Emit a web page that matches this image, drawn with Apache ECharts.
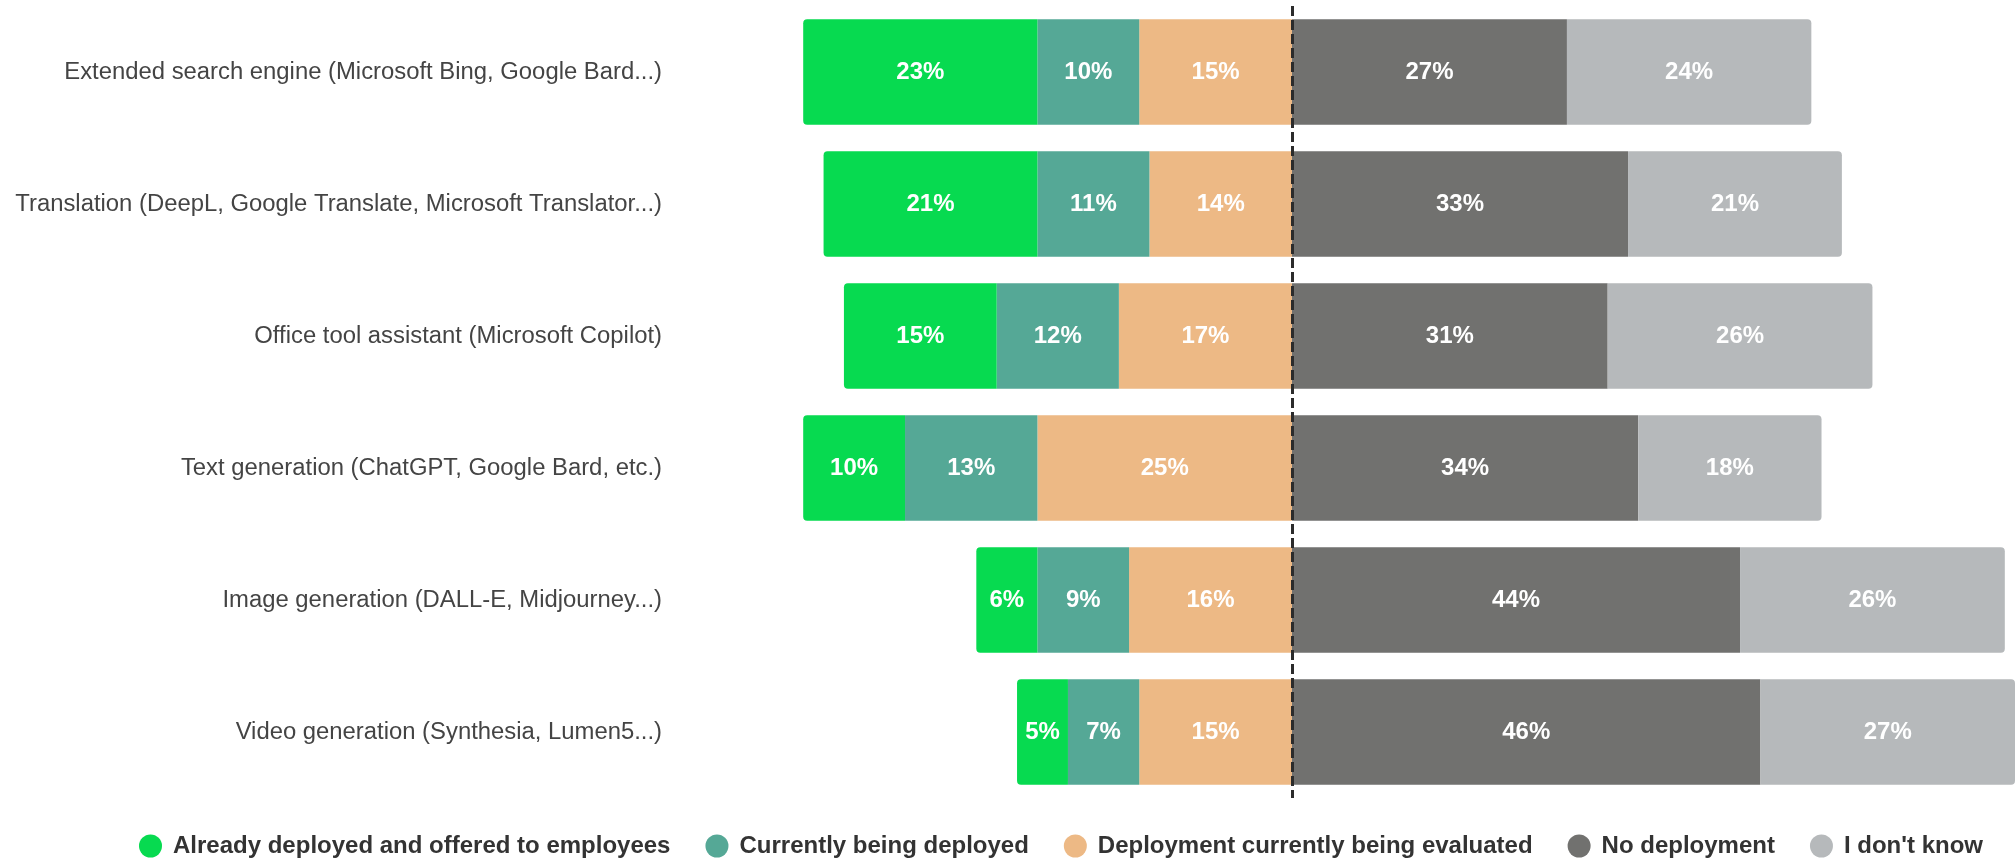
<!DOCTYPE html>
<html>
<head>
<meta charset="utf-8">
<title>Generative AI tools deployment</title>
<script src="https://cdn.jsdelivr.net/npm/echarts@6/dist/echarts.min.js"></script>
<style>
  html, body { margin: 0; padding: 0; background: #ffffff; }
  #chart { width: 2015px; height: 861px; }
</style>
</head>
<body>
<div id="chart"></div>
<script>
// Survey categories (top to bottom)
const categories = [
  'Extended search engine (Microsoft Bing, Google Bard...)',
  'Translation (DeepL, Google Translate, Microsoft Translator...)',
  'Office tool assistant (Microsoft Copilot)',
  'Text generation (ChatGPT, Google Bard, etc.)',
  'Image generation (DALL-E, Midjourney...)',
  'Video generation (Synthesia, Lumen5...)'
];

// Shares in percent, one array per answer
const alreadyDeployed   = [23, 21, 15, 10, 6, 5];
const beingDeployed     = [10, 11, 12, 13, 9, 7];
const beingEvaluated    = [15, 14, 17, 25, 16, 15];
const noDeployment      = [27, 33, 31, 34, 44, 46];
const dontKnow          = [24, 21, 26, 18, 26, 27];

const seriesNames = [
  'Already deployed and offered to employees',
  'Currently being deployed',
  'Deployment currently being evaluated',
  'No deployment',
  "I don't know"
];

const colors = {
  already: '#07da50',
  deploying: '#55a896',
  evaluating: '#edb985',
  none: '#71716f',
  unknown: '#b6b9bb'
};

const neg = arr => arr.map(v => -v);

const labelStyle = {
  show: true,
  position: 'inside',
  color: '#ffffff',
  fontFamily: 'Liberation Sans, Arial, sans-serif',
  fontWeight: 'bold',
  fontSize: 24,
  formatter: p => Math.abs(p.value) + '%'
};

function barSeries(name, data, color, radius, extra) {
  return Object.assign({
    name: name,
    type: 'bar',
    stack: 'total',
    data: data,
    barCategoryGap: '20%',
    itemStyle: { color: color, borderRadius: radius },
    label: labelStyle,
    emphasis: { disabled: true },
    animation: false
  }, extra || {});
}

const chart = echarts.init(document.getElementById('chart'), null, { renderer: 'canvas' });

chart.setOption({
  animation: false,
  grid: { left: 681, width: 1336, top: 6, height: 792 },
  xAxis: {
    type: 'value',
    min: -60,
    max: 71,
    show: false
  },
  yAxis: {
    type: 'category',
    data: categories,
    inverse: true,
    axisLine: { show: false },
    axisTick: { show: false },
    splitLine: { show: false },
    axisLabel: {
      margin: 19,
      color: '#444444',
      fontFamily: 'Liberation Sans, Arial, sans-serif',
      fontSize: 23.85
    }
  },
  legend: {
    data: seriesNames,
    left: 134,
    top: 829,
    icon: 'circle',
    itemWidth: 23,
    itemHeight: 23,
    itemGap: 35,
    textStyle: {
      color: '#333333',
      fontFamily: 'Liberation Sans, Arial, sans-serif',
      fontWeight: 'bold',
      fontSize: 24,
      padding: [0, 0, 0, 6]
    },
    selectedMode: false
  },
  series: [
    // Left side stacks outward from zero: evaluating, deploying, already deployed
    barSeries(seriesNames[2], neg(beingEvaluated), colors.evaluating, 0),
    barSeries(seriesNames[1], neg(beingDeployed), colors.deploying, 0),
    barSeries(seriesNames[0], neg(alreadyDeployed), colors.already, [4, 0, 0, 4]),
    // Right side
    barSeries(seriesNames[3], noDeployment, colors.none, 0, {
      markLine: {
        silent: true,
        symbol: ['none', 'none'],
        label: { show: false },
        z: 10,
        lineStyle: { color: '#2b2b2b', type: [10, 4], width: 3 },
        data: [{ xAxis: 0 }]
      }
    }),
    barSeries(seriesNames[4], dontKnow, colors.unknown, [0, 4, 4, 0])
  ]
});
</script>
</body>
</html>
